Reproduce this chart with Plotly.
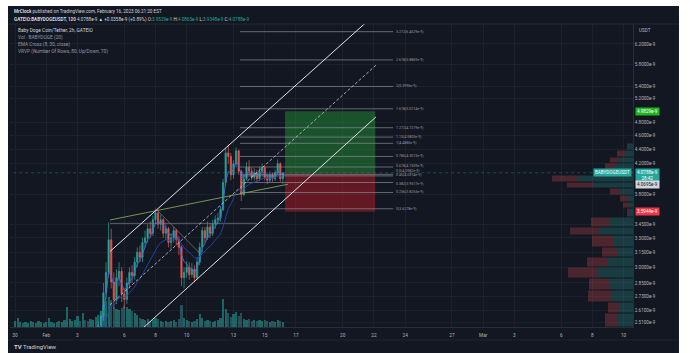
import numpy as np
import pandas as pd
import plotly.graph_objects as go

# ---------------- data ----------------
# volume bars (4h bars from Jan 30)
vol_start = "2023-01-30 00:00"
volumes = [6, 9, 5, 4, 5, 4, 6, 5, 4, 6, 5, 4, 5, 9, 5, 4, 5, 6, 5, 7,
           20, 8, 6, 7, 11, 6, 14, 7, 6, 8, 7, 10, 12, 16, 22, 26, 30, 27, 20, 18,
           17, 19, 21, 20, 18, 16, 14, 12, 9, 8, 7, 8, 6, 7, 9, 8, 6, 5, 6, 5,
           6, 7, 5, 8, 22, 9, 7, 6, 5, 6, 8, 13, 9, 6, 7, 6, 5, 6, 7, 9,
           28, 18, 14, 10, 13, 15, 11, 14, 8, 7, 8, 6, 7, 6, 7, 6, 7, 6, 5, 6,
           5, 7, 6, 5]

# candles (4h bars from Feb 3), prices in units of 1e-9 USDT
candle_start = "2023-02-03 00:00"
opens = [2.32, 2.36, 2.34, 2.40, 2.37, 2.35, 2.38, 2.40, 2.42, 2.48,
         2.56, 2.76, 2.95, 3.28, 2.86, 2.70, 2.90, 2.96, 2.75, 2.70,
         2.85, 2.95, 2.92, 3.05, 3.15, 3.10, 3.25, 3.30, 3.40, 3.35,
         3.50, 3.58, 3.45, 3.50, 3.35, 3.40, 3.25, 3.30, 3.38, 3.28,
         3.20, 2.90, 2.95, 3.00, 2.93, 2.98, 2.90, 3.05, 3.20, 3.38,
         3.30, 3.42, 3.35, 3.45, 3.50, 3.52, 3.62, 3.95, 4.35, 4.30,
         4.05, 4.20, 4.38, 4.10, 3.80, 4.00, 4.15, 4.10, 4.02, 4.08,
         4.00, 4.10, 4.15, 4.02, 3.98, 4.05, 4.00, 4.08, 4.20, 4.00]
highs = [2.39, 2.38, 2.43, 2.42, 2.39, 2.40, 2.42, 2.44, 2.52, 2.60,
         2.85, 3.05, 3.47, 3.40, 2.95, 2.98, 3.05, 3.00, 2.80, 2.90,
         3.00, 3.02, 3.10, 3.20, 3.22, 3.30, 3.38, 3.45, 3.48, 3.55,
         3.63, 3.62, 3.56, 3.52, 3.46, 3.42, 3.35, 3.42, 3.40, 3.32,
         3.22, 3.00, 3.06, 3.05, 3.04, 3.02, 3.10, 3.25, 3.42, 3.42,
         3.48, 3.46, 3.50, 3.55, 3.58, 3.66, 4.00, 4.42, 4.47, 4.35,
         4.25, 4.43, 4.40, 4.12, 4.05, 4.22, 4.25, 4.15, 4.14, 4.12,
         4.16, 4.20, 4.18, 4.06, 4.10, 4.08, 4.12, 4.26, 4.22, 4.0865]
lows = [2.30, 2.31, 2.33, 2.35, 2.33, 2.34, 2.36, 2.38, 2.40, 2.45,
        2.52, 2.70, 2.90, 2.80, 2.62, 2.66, 2.82, 2.68, 2.62, 2.66,
        2.80, 2.85, 2.88, 3.00, 3.05, 3.05, 3.20, 3.25, 3.30, 3.32,
        3.45, 3.40, 3.38, 3.30, 3.28, 3.20, 3.18, 3.25, 3.22, 3.12,
        2.82, 2.80, 2.90, 2.88, 2.90, 2.86, 2.88, 3.02, 3.15, 3.25,
        3.28, 3.30, 3.32, 3.40, 3.45, 3.48, 3.60, 3.92, 4.20, 3.98,
        4.00, 4.15, 4.05, 3.72, 3.78, 3.98, 4.05, 3.98, 3.98, 3.95,
        3.97, 4.05, 3.98, 3.93, 3.95, 3.96, 3.97, 4.05, 3.96, 3.9348]
closes = [2.36, 2.34, 2.40, 2.37, 2.35, 2.38, 2.40, 2.42, 2.48, 2.56,
          2.76, 2.95, 3.28, 2.86, 2.70, 2.90, 2.96, 2.75, 2.70, 2.85,
          2.95, 2.92, 3.05, 3.15, 3.10, 3.25, 3.30, 3.40, 3.35, 3.50,
          3.58, 3.45, 3.50, 3.35, 3.40, 3.25, 3.30, 3.38, 3.28, 3.20,
          2.90, 2.95, 3.00, 2.93, 2.98, 2.90, 3.05, 3.20, 3.38, 3.30,
          3.42, 3.35, 3.45, 3.50, 3.52, 3.62, 3.95, 4.35, 4.30, 4.05,
          4.20, 4.38, 4.10, 3.80, 4.00, 4.15, 4.10, 4.02, 4.08, 4.00,
          4.10, 4.15, 4.02, 3.98, 4.05, 4.00, 4.08, 4.20, 4.00, 4.0788]

# EMA Cross (8, 30) on 2h bars -> spans on the 4h bars used here
ema_fast_span = 4
ema_slow_span = 15

# y-axis ticks (log scale)
price_ticks = [2.51, 2.61, 2.73, 2.85, 3.0, 3.15, 3.3, 3.45, 3.8, 4.2, 4.4, 4.6, 4.8, 5.2, 5.4, 5.8, 6.2]
x_tick_dates = ["2023-01-30", "2023-02-01", "2023-02-03", "2023-02-06", "2023-02-08", "2023-02-10",
                "2023-02-13", "2023-02-15", "2023-02-17", "2023-02-20", "2023-02-22", "2023-02-24",
                "2023-02-27", "2023-03-01", "2023-03-03", "2023-03-06", "2023-03-08", "2023-03-10"]
x_tick_text = ["30", "Feb", "3", "6", "8", "10", "13", "15", "17", "20", "22", "24", "27", "Mar", "3", "6", "8", "10"]

# fib extension levels
fib_levels = ["3.272", "2.618", "2", "1.618", "1.272", "1.13", "1", "0.786", "0.618", "0.5", "0.45", "0.382", "0.236", "0"]
fib_prices = [6.4529, 5.8869, 5.3996, 5.0214, 4.7219, 4.5805, 4.4886, 4.3013, 4.1559, 4.0582, 4.0374, 3.9517, 3.8253, 3.6278]
fib_x = ["2023-02-13 10:00", "2023-02-23 05:30"]
fib_label_x = "2023-02-23 09:00"

# parallel channel (upper, middle, lower) end points
chan_x = ["2023-02-05 02:00", "2023-02-22 03:00"]
chan_upper = [3.157, 6.842]
chan_mid = [2.655, 5.785]
chan_lower = [2.233, 4.890]

# other trend lines
green_x = ["2023-02-05 02:00", "2023-02-16 12:00"]
green_y = [3.498, 3.93]
hline_x = ["2023-02-05 02:00", "2023-02-14 12:00"]
hline_y = [3.46, 3.46]
desc_x = ["2023-02-08 04:00", "2023-02-10 20:00"]
desc_y = [3.60, 3.14]

# long position tool
pos_x = ["2023-02-16 07:20", "2023-02-22 02:00"]
entry_price = 4.0695
target_price = 4.9829
stop_price = 3.5944
last_price = 4.0788

# visible-range volume profile rows (edges top->bottom) and up/down volumes
vp_edges = [4.494, 4.393, 4.294, 4.210, 4.116, 4.050, 3.958, 3.882, 3.794, 3.709, 3.637,
            3.532, 3.420, 3.331, 3.204, 3.102, 3.002, 2.897, 2.786, 2.679, 2.585, 2.470]
vp_up = [5, 8, 13, 18, 23, 56, 40, 13, 5, 4, 4, 23, 33, 20, 16, 26, 36, 23, 21, 13, 15]
vp_down = [1, 8, 10, 10, 17, 25, 26, 10, 8, 6, 2, 19, 30, 21, 15, 20, 29, 21, 24, 12, 13]

# ---------------- figure ----------------
BG = "#131722"
GRID = "#1d212c"
TXT = "#b2b5be"
FONT = "Roboto"
UP = "#26a69a"
DOWN = "#ef5350"

vol_times = pd.date_range(vol_start, periods=len(volumes), freq="4h")
candle_times = pd.date_range(candle_start, periods=len(closes), freq="4h")

dir_map = {t: (c >= o) for t, o, c in zip(candle_times, opens, closes)}
vol_colors = []
for t in vol_times:
    up = dir_map.get(t, True)
    vol_colors.append("rgba(38,166,154,0.55)" if up else "rgba(60,150,160,0.45)")

fig = go.Figure()

fig.add_trace(go.Bar(x=vol_times, y=volumes, xaxis="x", yaxis="y",
                     marker=dict(color=vol_colors, line=dict(width=0)),
                     width=4 * 3600 * 1000 * 0.85, hoverinfo="skip", showlegend=False))

# volume profile
def rect_path(x_left, x_right, lo, hi):
    xs, ys = [], []
    for a, b, l, h in zip(x_left, x_right, lo, hi):
        xs += [a, b, b, a, a, None]
        ys += [l, l, h, h, l, None]
    return xs, ys

tops = [e * 0.9985 for e in vp_edges[:-1]]
bots = [e * 1.0015 for e in vp_edges[1:]]
ux, uy = rect_path([0] * len(vp_up), vp_up, bots, tops)
dx, dy = rect_path(vp_up, [u + d for u, d in zip(vp_up, vp_down)], bots, tops)
fig.add_trace(go.Scatter(x=ux, y=uy, xaxis="x2", yaxis="y2", mode="lines", fill="toself",
                         fillcolor="rgba(38,166,154,0.26)", line=dict(width=0), hoverinfo="skip", showlegend=False))
fig.add_trace(go.Scatter(x=dx, y=dy, xaxis="x2", yaxis="y2", mode="lines", fill="toself",
                         fillcolor="rgba(239,83,80,0.26)", line=dict(width=0), hoverinfo="skip", showlegend=False))

# long position boxes
fig.add_trace(go.Scatter(x=[pos_x[0], pos_x[1], pos_x[1], pos_x[0], pos_x[0]],
                         y=[entry_price, entry_price, target_price, target_price, entry_price],
                         xaxis="x", yaxis="y2", mode="lines", fill="toself",
                         fillcolor="rgba(40,180,60,0.38)", line=dict(width=0), hoverinfo="skip", showlegend=False))
fig.add_trace(go.Scatter(x=[pos_x[0], pos_x[1], pos_x[1], pos_x[0], pos_x[0]],
                         y=[stop_price, stop_price, entry_price, entry_price, stop_price],
                         xaxis="x", yaxis="y2", mode="lines", fill="toself",
                         fillcolor="rgba(230,30,40,0.38)", line=dict(width=0), hoverinfo="skip", showlegend=False))

# fib lines
fx, fy = [], []
for p in fib_prices:
    fx += [fib_x[0], fib_x[1], None]
    fy += [p, p, None]
fig.add_trace(go.Scatter(x=fx, y=fy, xaxis="x", yaxis="y2", mode="lines",
                         line=dict(color="#8a8d96", width=0.7), hoverinfo="skip", showlegend=False))

def line(xs, ys, color, width=1.0, dash="solid"):
    fig.add_trace(go.Scatter(x=xs, y=ys, xaxis="x", yaxis="y2", mode="lines",
                             line=dict(color=color, width=width, dash=dash), hoverinfo="skip", showlegend=False))

line(hline_x, hline_y, "#7b7f8a", 0.7)
line(desc_x, desc_y, "#7b7f8a", 0.7)
line(green_x, green_y, "#7fa35a", 0.9)

# candles
fig.add_trace(go.Candlestick(x=candle_times, open=opens, high=highs, low=lows, close=closes,
                             xaxis="x", yaxis="y2",
                             increasing=dict(line=dict(color=UP, width=0.7), fillcolor=UP),
                             decreasing=dict(line=dict(color=DOWN, width=0.7), fillcolor=DOWN),
                             whiskerwidth=0, hoverinfo="skip", showlegend=False))

# EMAs
cs = pd.Series(closes)
ema_fast = cs.ewm(span=ema_fast_span, adjust=False).mean()
ema_slow = cs.ewm(span=ema_slow_span, adjust=False).mean()
fig.add_trace(go.Scatter(x=candle_times, y=ema_fast, xaxis="x", yaxis="y2", mode="lines",
                         line=dict(color="#3f6fd8", width=0.9), hoverinfo="skip", showlegend=False))
fig.add_trace(go.Scatter(x=candle_times, y=ema_slow, xaxis="x", yaxis="y2", mode="lines",
                         line=dict(color="#1f47b0", width=0.9), hoverinfo="skip", showlegend=False))

# channel
line(chan_x, chan_upper, "#e0e3eb", 1.0)
line(chan_x, chan_lower, "#e0e3eb", 1.0)
line(chan_x, chan_mid, "#c9ccd4", 0.8, "3px,2px")

# last price line
line(["2023-01-29 12:00", "2023-03-11 00:00"], [last_price, last_price], "rgba(38,166,154,0.6)", 0.6, "dot")

annotations = []
fib_shift = {"0.618": 1.0, "0.5": 3.0, "0.45": 0.5, "0.382": -1.5}
for lv, p in zip(fib_levels, fib_prices):
    annotations.append(dict(x=fib_label_x, y=np.log10(p), xref="x", yref="y2", xanchor="left",
                            yanchor="middle", showarrow=False, text=f"{lv}({p:.4f}e-9)",
                            yshift=fib_shift.get(lv, 0), borderpad=0,
                            font=dict(family=FONT, size=3.6, color="#9598a1")))

def paper_text(x, y, text, size=4.7, color=TXT, xanchor="left"):
    annotations.append(dict(x=x, y=y, xref="paper", yref="paper", xanchor=xanchor, yanchor="middle",
                            showarrow=False, text=text, font=dict(family=FONT, size=size, color=color)))

paper_text(0.0032, 1.0429, "<b>MrClock</b> published on TradingView.com, February 16, 2023 06:21:20 EST", 4.6, "#d1d4dc")
g = "#26a69a"
paper_text(0.0032, 1.0165,
           "<b>GATEIO:BABYDOGEUSDT, 120</b> 4.0788e-9 ▲ +0.0358e-9 (+0.89%) "
           f"O:<span style='color:{g}'>3.9529e-9</span> H:<span style='color:{g}'>4.0865e-9</span> "
           f"L:<span style='color:{g}'>3.9348e-9</span> C:<span style='color:{g}'>4.0788e-9</span>",
           4.6, "#d1d4dc")
paper_text(0.0096, 0.9769, "Baby Doge Coin/Tether, 2h, GATEIO", 4.8, "#d1d4dc")
paper_text(0.0096, 0.9538, "Vol · BABYDOGE (20)", 4.8, "#9598a1")
paper_text(0.0096, 0.9307, "EMA Cross (8, 30, close)", 4.8, "#9598a1")
paper_text(0.0096, 0.9076, "VRVP (Number Of Rows, 80, Up/Down, 70)", 4.8, "#9598a1")
paper_text(1.0064, 0.980, "USDT", 4.6, TXT)
paper_text(0.0032, -0.066, "<b>TV</b> TradingView", 6.0, "#d1d4dc")

def price_label(y_log, text, bg, fg="#ffffff", x=1.003, xanchor="left"):
    annotations.append(dict(x=x, y=y_log, xref="paper", yref="y2", xanchor=xanchor, yanchor="middle",
                            showarrow=False, text=text, bgcolor=bg, borderpad=1,
                            font=dict(family=FONT, size=4.6, color=fg)))

price_label(np.log10(target_price), f"{target_price:.4f}e-9", "#1fb51f")
price_label(0.6067, f"{last_price:.4f}e-9<br>28:42", "#26a69a")
price_label(0.5933, f"{entry_price:.4f}e-9", "#d1d4dc", "#131722")
price_label(np.log10(stop_price), f"{stop_price:.4f}e-9", "#f23645")
price_label(np.log10(last_price), "BABYDOGEUSDT", "#26a69a", x=0.999, xanchor="right")

shapes = [
    dict(type="rect", xref="paper", yref="paper", x0=-0.0032, x1=1.0738, y0=-0.0858, y1=1.0594,
         fillcolor=BG, line=dict(width=0), layer="below"),
    dict(type="line", xref="paper", yref="paper", x0=-0.0032, x1=1.0738, y0=1.0, y1=1.0,
         line=dict(color="#2a2e39", width=0.8)),
    dict(type="line", xref="paper", yref="paper", x0=-0.0032, x1=1.0738, y0=-0.043, y1=-0.043,
         line=dict(color="#2a2e39", width=0.6)),
]

fig.update_layout(
    width=690, height=353,
    margin=dict(l=10, r=57, t=24, b=26),
    paper_bgcolor="white", plot_bgcolor=BG,
    showlegend=False, bargap=0,
    font=dict(family=FONT, size=4.7, color=TXT),
    annotations=annotations, shapes=shapes,
    xaxis=dict(type="date", range=["2023-01-29 16:18", "2023-03-10 14:25"],
               tickmode="array", tickvals=x_tick_dates, ticktext=x_tick_text,
               showgrid=True, gridcolor=GRID, gridwidth=0.6, zeroline=False,
               showline=True, linecolor="#2a2e39", linewidth=0.8, ticks="",
               ticklabelstandoff=3,
               tickfont=dict(family=FONT, size=4.7, color=TXT), rangeslider=dict(visible=False),
               fixedrange=True),
    xaxis2=dict(overlaying="x", range=[623, 0], visible=False, fixedrange=True),
    yaxis=dict(range=[0, 303], visible=False, showgrid=False, fixedrange=True),
    yaxis2=dict(type="log", overlaying="y", side="right", range=[0.3927, 0.8206],
                tickmode="array", tickvals=price_ticks,
                ticktext=[f"{v:.4f}e-9" for v in price_ticks],
                showgrid=True, gridcolor=GRID, gridwidth=0.6, zeroline=False,
                showline=True, linecolor="#2a2e39", linewidth=0.8, ticks="",
                tickfont=dict(family=FONT, size=4.6, color=TXT), fixedrange=True),
)

fig.write_html("out.html")
